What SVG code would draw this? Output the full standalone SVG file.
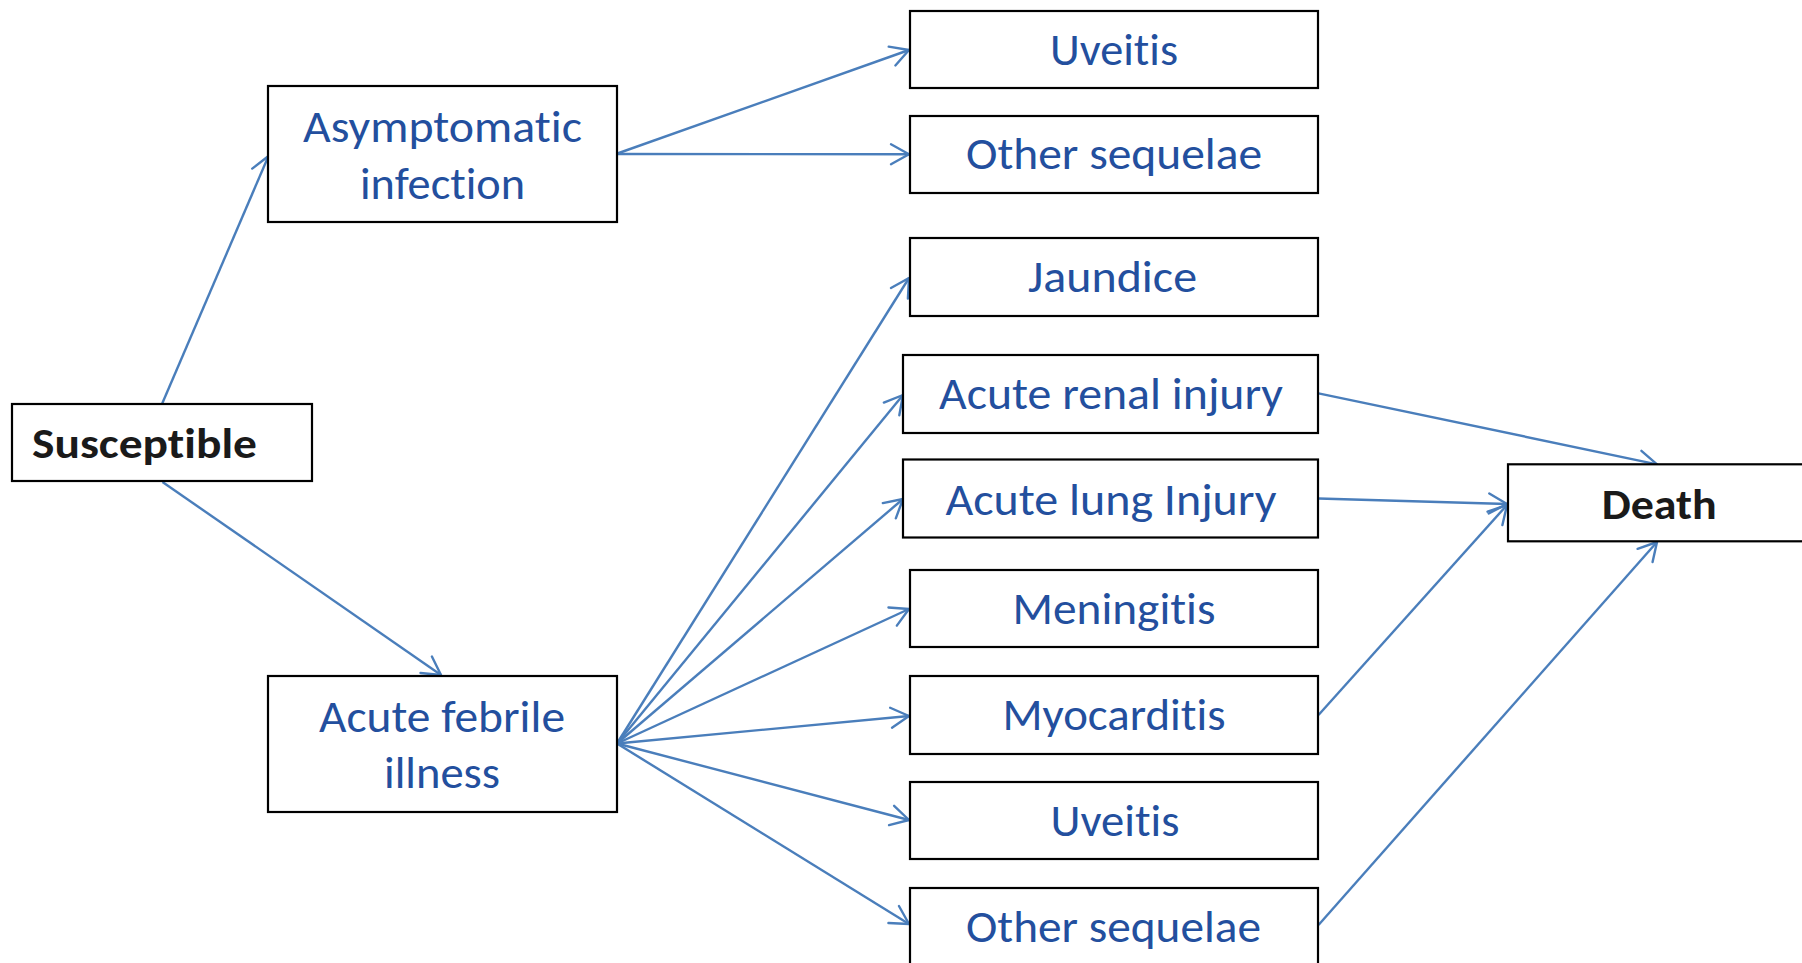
<svg xmlns="http://www.w3.org/2000/svg" width="1802" height="963" viewBox="0 0 1802 963">
<defs>
<style>
.box{fill:#fff;stroke:#000;stroke-width:2.2}
.t{font-family:Carlito,Lato,"Open Sans",sans-serif;font-size:45px;fill:#234f9e;text-anchor:middle;font-variant-ligatures:none;font-feature-settings:"liga" 0}
.b{font-family:Carlito,Lato,"Open Sans",sans-serif;font-size:43px;font-weight:bold;fill:#1a1a1a;font-variant-ligatures:none;font-feature-settings:"liga" 0}
.c line{stroke:#4a7ebb;stroke-width:2.4;fill:none;marker-end:url(#ah)}
</style>
<marker id="ah" markerUnits="userSpaceOnUse" viewBox="-22 -13 26 26" refX="0" refY="0" markerWidth="26" markerHeight="26" orient="auto">
<path d="M-18,-10 L0,0 L-18,10" fill="none" stroke="#4a7ebb" stroke-width="2.4" stroke-linecap="round" stroke-linejoin="round"/>
</marker>
</defs>
<rect width="1802" height="963" fill="#fff"/>
<g class="c" id="connectors">
<line x1="162" y1="404" x2="268.5" y2="156"/>
<line x1="162.5" y1="482" x2="441" y2="675"/>
<line x1="616" y1="154" x2="909" y2="50"/>
<line x1="616" y1="154" x2="909" y2="154.3"/>
<line x1="617" y1="743.5" x2="909" y2="278"/>
<line x1="617" y1="743.5" x2="903" y2="395"/>
<line x1="617" y1="743.5" x2="903" y2="499"/>
<line x1="617" y1="743.5" x2="909" y2="609"/>
<line x1="617" y1="743.5" x2="909" y2="716"/>
<line x1="617" y1="743.5" x2="909" y2="820"/>
<line x1="617" y1="743.5" x2="909" y2="924"/>
<line x1="1318.5" y1="393.3" x2="1657" y2="464.3"/>
<line x1="1318.5" y1="498.5" x2="1507" y2="504"/>
<line x1="1318.5" y1="715" x2="1507" y2="505"/>
<line x1="1318.5" y1="925" x2="1657" y2="542"/>
</g>
<g id="susceptible"><rect class="box" x="12" y="404" width="300" height="77"/><text class="b" x="32" y="458" textLength="225" lengthAdjust="spacingAndGlyphs">Susceptible</text></g>
<g id="asymptomatic"><rect class="box" x="268" y="86" width="349" height="136"/><text class="t" x="442.5" y="141.7" textLength="279" lengthAdjust="spacingAndGlyphs">Asymptomatic</text><text class="t" x="442.5" y="199.3" textLength="165" lengthAdjust="spacingAndGlyphs">infection</text></g>
<g id="febrile"><rect class="box" x="268" y="676" width="349" height="136"/><text class="t" x="442" y="732.3" textLength="246" lengthAdjust="spacingAndGlyphs">Acute febrile</text><text class="t" x="442" y="788.3" textLength="116" lengthAdjust="spacingAndGlyphs">illness</text></g>
<g id="uveitis1"><rect class="box" x="910" y="11" width="408" height="77"/><text class="t" x="1114" y="65" textLength="128" lengthAdjust="spacingAndGlyphs">Uveitis</text></g>
<g id="sequelae1"><rect class="box" x="910" y="116" width="408" height="77"/><text class="t" x="1114" y="169" textLength="296" lengthAdjust="spacingAndGlyphs">Other sequelae</text></g>
<g id="jaundice"><rect class="box" x="910" y="238" width="408" height="78"/><text class="t" x="1112.5" y="291.7" textLength="169" lengthAdjust="spacingAndGlyphs">Jaundice</text></g>
<g id="renal"><rect class="box" x="903" y="355" width="415" height="78"/><text class="t" x="1111" y="409.3" textLength="344" lengthAdjust="spacingAndGlyphs">Acute renal injury</text></g>
<g id="lung"><rect class="box" x="903" y="459.5" width="415" height="78"/><text class="t" x="1111" y="514.5" textLength="331" lengthAdjust="spacingAndGlyphs">Acute lung Injury</text></g>
<g id="meningitis"><rect class="box" x="910" y="570" width="408" height="77"/><text class="t" x="1114" y="624" textLength="203" lengthAdjust="spacingAndGlyphs">Meningitis</text></g>
<g id="myocarditis"><rect class="box" x="910" y="676" width="408" height="78"/><text class="t" x="1114" y="730" textLength="223" lengthAdjust="spacingAndGlyphs">Myocarditis</text></g>
<g id="uveitis2"><rect class="box" x="910" y="782" width="408" height="77"/><text class="t" x="1115" y="835.7" textLength="129" lengthAdjust="spacingAndGlyphs">Uveitis</text></g>
<g id="sequelae2"><rect class="box" x="910" y="888" width="408" height="90"/><text class="t" x="1113.5" y="942.3" textLength="295" lengthAdjust="spacingAndGlyphs">Other sequelae</text></g>
<g id="death"><rect class="box" x="1508" y="464.3" width="300" height="77"/><text class="b" x="1601.7" y="519.3" textLength="115" lengthAdjust="spacingAndGlyphs">Death</text></g>
</svg>
